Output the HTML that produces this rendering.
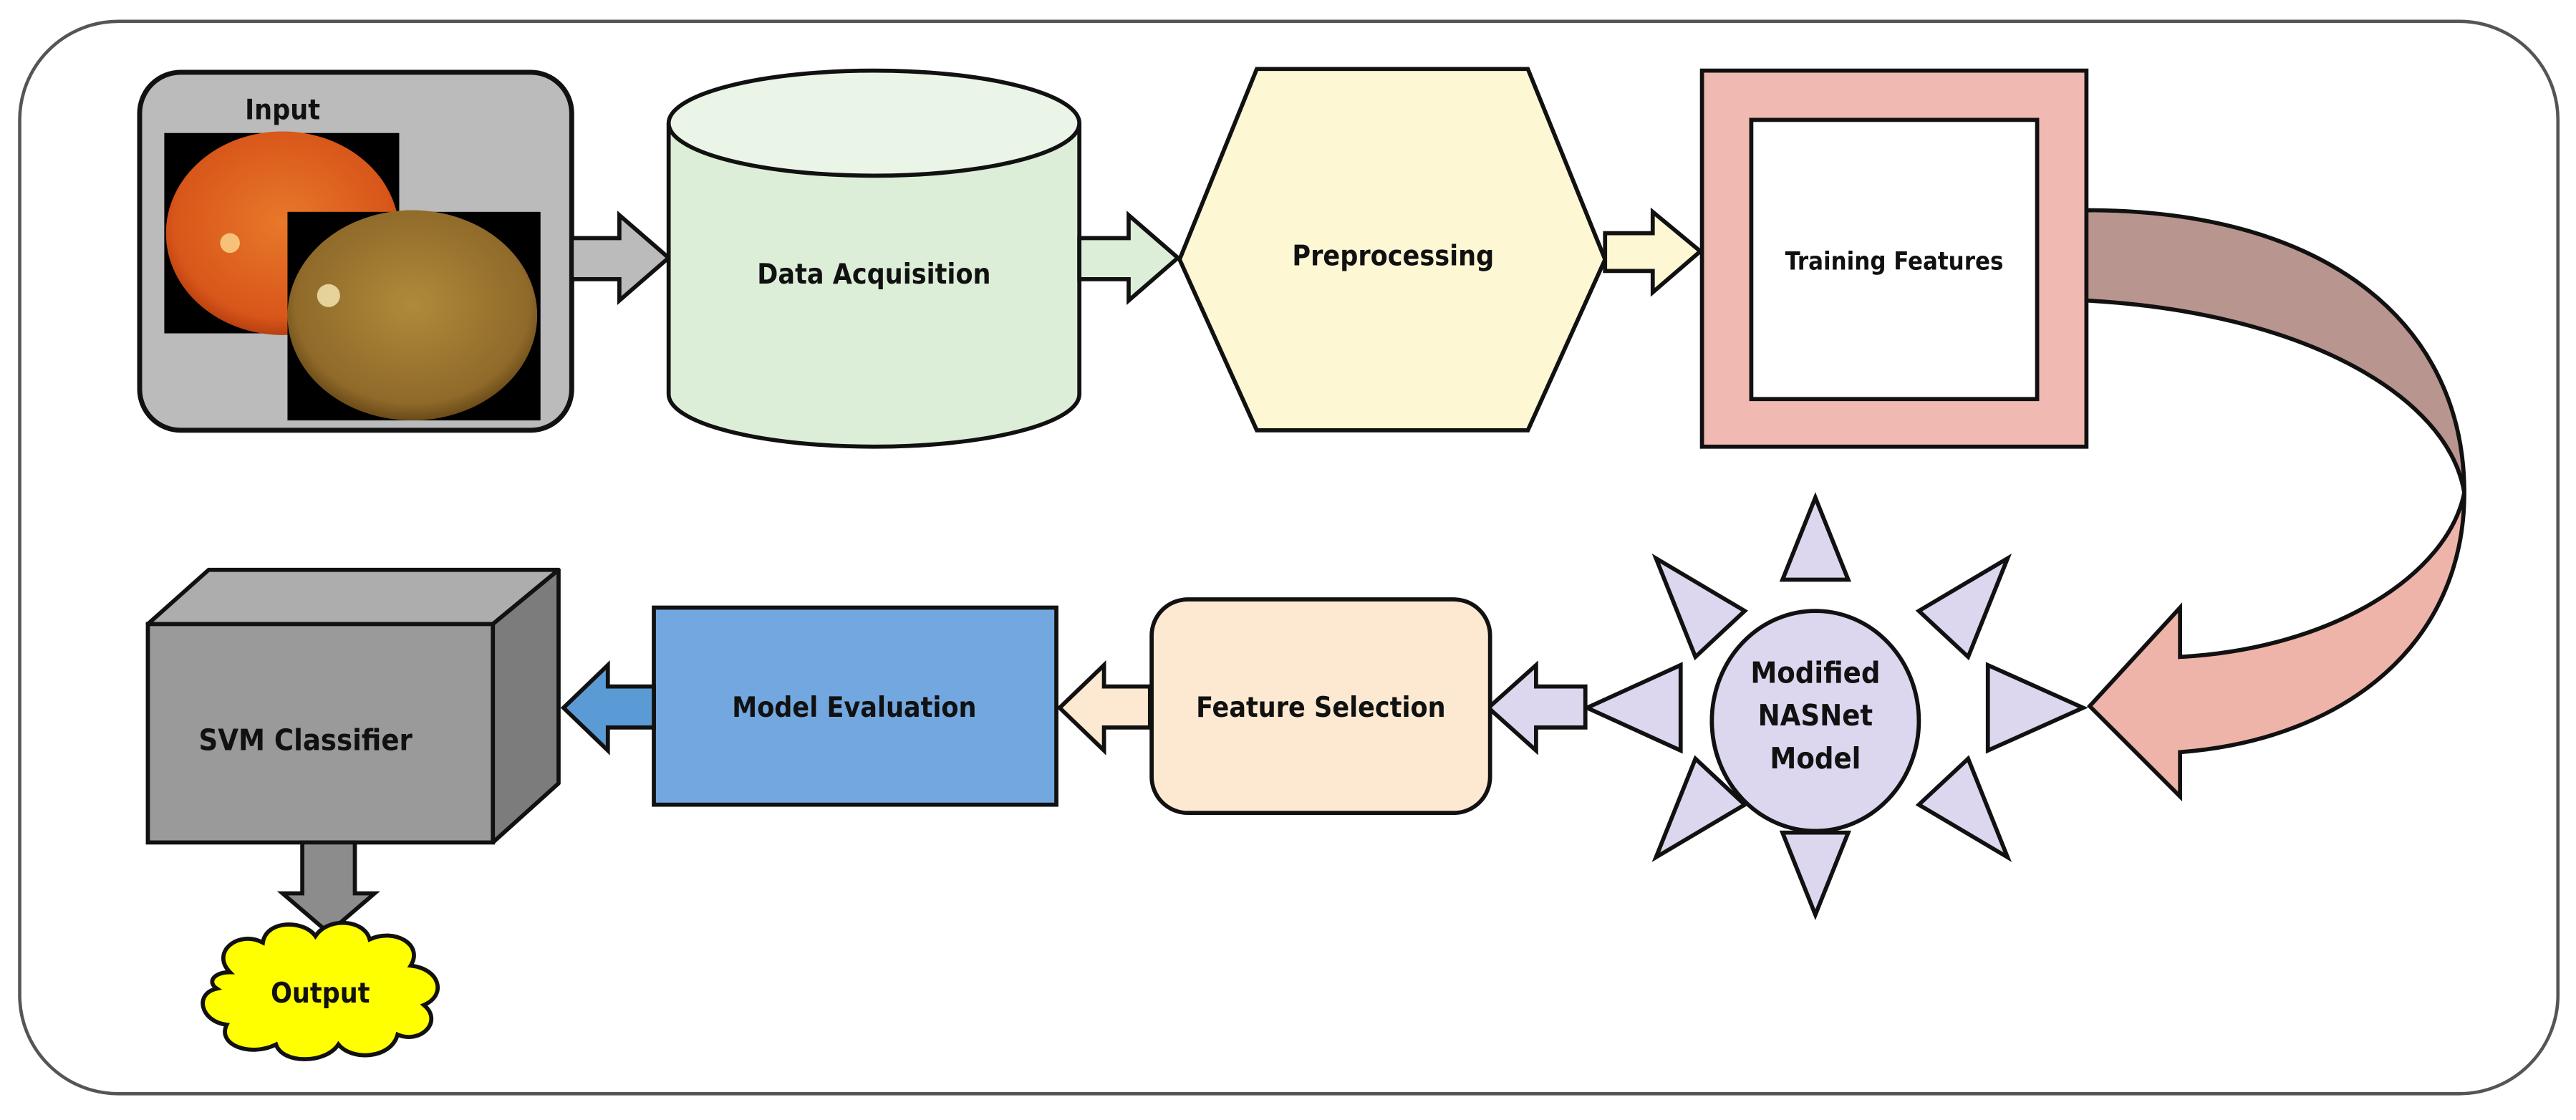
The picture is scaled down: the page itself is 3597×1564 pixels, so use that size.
<!DOCTYPE html>
<html><head><meta charset="utf-8"><style>
html,body{margin:0;padding:0;background:#fff;}
svg{display:block;}
text{font-family:"DejaVu Sans Condensed","DejaVu Sans","Liberation Sans",sans-serif;font-weight:bold;fill:#111;text-anchor:middle;dominant-baseline:middle;}
</style></head><body>
<svg width="3597" height="1564" viewBox="0 0 1568 682" preserveAspectRatio="none" xmlns="http://www.w3.org/2000/svg">
<defs>
<radialGradient id="e1" cx="0.5" cy="0.45" r="0.55"><stop offset="0" stop-color="#e8782a"/><stop offset="0.85" stop-color="#d8561a"/><stop offset="1" stop-color="#b84010"/></radialGradient>
<radialGradient id="e2" cx="0.5" cy="0.45" r="0.55"><stop offset="0" stop-color="#b08a3a"/><stop offset="0.85" stop-color="#8f6a2a"/><stop offset="1" stop-color="#6a4a18"/></radialGradient>
</defs>
<rect x="12" y="13" width="1545" height="653" rx="60" fill="#fff" stroke="#555" stroke-width="2"/>
<!-- Input -->
<rect x="85" y="44" width="263" height="218" rx="25" fill="#bbbbbb" stroke="#111" stroke-width="3"/>
<text x="172" y="68" font-size="17">Input</text>
<rect x="100" y="81" width="143" height="122" fill="#000"/>
<ellipse cx="172" cy="142" rx="71" ry="62" fill="url(#e1)"/>
<circle cx="140" cy="148" r="6" fill="#ffe9a0" opacity="0.7"/>
<rect x="175" y="129" width="154" height="127" fill="#000"/>
<ellipse cx="251" cy="192" rx="76" ry="64" fill="url(#e2)"/>
<circle cx="200" cy="180" r="7" fill="#fff3c0" opacity="0.75"/>
<!-- arrow 1 -->
<polygon points="348,145 377,145 377,131 407,157 377,183 377,170 348,170" fill="#bbb" stroke="#111" stroke-width="2.5"/>
<!-- cylinder -->
<path d="M407,75 L407,240 A125,32 0 0 0 657,240 L657,75" fill="#ddeed8" stroke="#111" stroke-width="2.5"/>
<ellipse cx="532" cy="75" rx="125" ry="32" fill="#eaf5e7" stroke="#111" stroke-width="2.5"/>
<text x="532" y="168" font-size="17">Data Acquisition</text>
<!-- arrow 2 -->
<polygon points="657,145 687,145 687,131 717,157 687,183 687,170 657,170" fill="#ddeed8" stroke="#111" stroke-width="2.5"/>
<!-- hexagon -->
<polygon points="718,158 765,42 930,42 977,158 930,262 765,262" fill="#fdf7d4" stroke="#111" stroke-width="2.5"/>
<text x="848" y="157" font-size="17">Preprocessing</text>
<!-- arrow 3 -->
<polygon points="977,142 1006,142 1006,129 1035,153 1006,178 1006,165 977,165" fill="#fdf7d4" stroke="#111" stroke-width="2.5"/>
<!-- training -->
<rect x="1036" y="43" width="234" height="229" fill="#f0bab3" stroke="#111" stroke-width="2.5"/>
<rect x="1066" y="73" width="174" height="170" fill="#fff" stroke="#111" stroke-width="2.5"/>
<text x="1153" y="160" font-size="15">Training Features</text>
<!-- curved arrow -->
<path d="M1500,300 C1500,390 1430,450 1327,458 L1327,485 L1272,430 L1327,370 L1327,400 C1420,395 1490,350 1500,300 Z" fill="#eeb4aa" stroke="#111" stroke-width="2.5" stroke-linejoin="miter"/>
<path d="M1270,128 C1420,128 1500,200 1500,300 C1490,240 1400,190 1270,183 Z" fill="#b8958e" stroke="#111" stroke-width="2.5"/>
<!-- sun -->
<g fill="#dcd6ef" stroke="#111" stroke-width="2.5" stroke-linejoin="miter">
<polygon points="1105,303 1085,353 1125,353"/>
<polygon points="1105,557 1085,507 1125,507"/>
<polygon points="966,431 1023,405 1023,457"/>
<polygon points="1268,431 1210,405 1210,457"/>
<polygon points="1008,340 1062,372 1032,400"/>
<polygon points="1222,340 1168,372 1198,400"/>
<polygon points="1008,522 1062,490 1032,462"/>
<polygon points="1222,522 1168,490 1198,462"/>
<ellipse cx="1105" cy="439" rx="63" ry="67"/>
</g>
<text x="1105" y="411" font-size="18" font-weight="normal">Modified</text>
<text x="1105" y="437" font-size="18" font-weight="normal">NASNet</text>
<text x="1105" y="463" font-size="18" font-weight="normal">Model</text>
<!-- arrow lavender -->
<polygon points="965,418 935,418 935,405 906,431 935,457 935,443 965,443" fill="#dcd6ef" stroke="#111" stroke-width="2.5"/>
<!-- feature selection -->
<rect x="701" y="365" width="206" height="130" rx="22" fill="#fde9d2" stroke="#111" stroke-width="2.5"/>
<text x="804" y="432" font-size="17">Feature Selection</text>
<!-- arrow peach -->
<polygon points="700,418 672,418 672,405 645,431 672,457 672,443 700,443" fill="#fde9d2" stroke="#111" stroke-width="2.5"/>
<!-- model evaluation -->
<rect x="398" y="370" width="245" height="120" fill="#72a8df" stroke="#111" stroke-width="2.5"/>
<text x="520" y="432" font-size="17">Model Evaluation</text>
<!-- arrow blue -->
<polygon points="398,418 370,418 370,405 343,431 370,457 370,443 398,443" fill="#5b9bd5" stroke="#111" stroke-width="2.5"/>
<!-- cube -->
<polygon points="90,380 127,347 340,347 300,380" fill="#adadad" stroke="#111" stroke-width="2.5" stroke-linejoin="round"/>
<polygon points="300,380 340,347 340,477 300,513" fill="#7c7c7c" stroke="#111" stroke-width="2.5" stroke-linejoin="round"/>
<rect x="90" y="380" width="210" height="133" fill="#9a9a9a" stroke="#111" stroke-width="2.5"/>
<text x="186" y="452" font-size="18" fill="#222">SVM Classifier</text>
<!-- down arrow -->
<polygon points="184,513 216,513 216,544 228,544 200,568 172,544 184,544" fill="#8c8c8c" stroke="#111" stroke-width="2.5"/>
<!-- cloud -->
<path d="M140,592 C128,580 145,566 160,574 C162,560 185,560 192,570 C200,558 222,560 225,572 C240,565 258,575 250,588 C268,590 272,606 258,612 C270,622 256,636 242,630 C238,645 214,646 206,636 C198,648 172,648 168,636 C152,644 132,636 138,624 C122,622 118,605 132,602 C126,598 130,592 140,592 Z" fill="#ffff00" stroke="#111" stroke-width="2.5"/>
<text x="195" y="606" font-size="17">Output</text>
</svg>
</body></html>
